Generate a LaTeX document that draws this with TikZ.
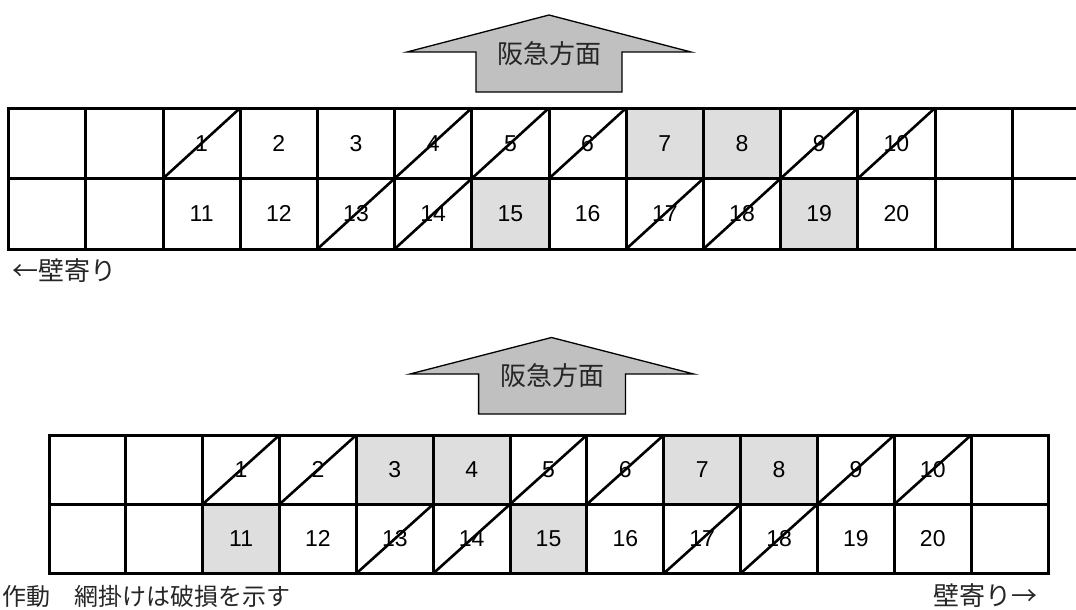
\documentclass[tikz,border=0pt]{standalone}
\usepackage{fontspec}
\setmainfont{Liberation Sans}
\newfontfamily\jp{Noto Sans CJK JP}
\usetikzlibrary{backgrounds}
\definecolor{arrowgray}{HTML}{C0C0C0}
\definecolor{dmg}{HTML}{DEDEDE}
\tikzset{
  cellbox/.style={draw=black,line width=3pt,minimum width=77.2pt,minimum height=70.5pt,
    inner sep=0pt,outer sep=0pt,font=\fontsize{23}{23}\selectfont},
  cellboxb/.style={cellbox,minimum width=76.85pt,minimum height=69.2pt},
  slash/.style={draw=black,line width=2.6pt},
  dmgfill/.style={fill=dmg},
  arrowshape/.style={draw=black,line width=1.3pt,fill=arrowgray,line join=miter},
  jplabel/.style={font=\jp\fontsize{26}{26}\selectfont,inner sep=0pt,text=black!85}
}
\begin{document}
\begin{tikzpicture}[x=1pt,y=-1pt]
\useasboundingbox (0,0) rectangle (1076,610);

% ---------- upper diagram ----------
\draw[arrowshape] (407,52) -- (549,15) -- (691,52) -- (622,52) -- (622,92) -- (476,92) -- (476,52) -- cycle;
\node[jplabel] (dirA) at (549,54) {阪急方面};

\foreach \c in {0,...,13} {
  \pgfmathtruncatemacro{\na}{\c-1}
  \pgfmathtruncatemacro{\nb}{\c+9}
  \node[cellbox] (A-0-\c) at ({8.6+77.2*(\c+0.5)},{108+70.5*0.5}) {\ifnum\c>1 \ifnum\c<12 \na\fi\fi};
  \node[cellbox] (A-1-\c) at ({8.6+77.2*(\c+0.5)},{108+70.5*1.5}) {\ifnum\c>1 \ifnum\c<12 \nb\fi\fi};
}
\begin{scope}[on background layer]
  \foreach \n in {A-0-8,A-0-9,A-1-6,A-1-10}
    \fill[dmgfill] (\n.south west) rectangle (\n.north east);
\end{scope}
\foreach \n in {A-0-2,A-0-5,A-0-6,A-0-7,A-0-10,A-0-11,A-1-4,A-1-5,A-1-8,A-1-9}
  \draw[slash] (\n.south west) -- (\n.north east);

\node[jplabel,anchor=west] (wallL) at (12,271) {←壁寄り};

% ---------- lower diagram ----------
\draw[arrowshape] (410,374) -- (551.5,337.5) -- (693.7,374) -- (625.5,374) -- (625.5,414) -- (478.6,414) -- (478.6,374) -- cycle;
\node[jplabel] (dirB) at (552,376) {阪急方面};

\foreach \c in {0,...,12} {
  \pgfmathtruncatemacro{\na}{\c-1}
  \pgfmathtruncatemacro{\nb}{\c+9}
  \node[cellboxb] (B-0-\c) at ({49+76.85*(\c+0.5)},{435+69.2*0.5}) {\ifnum\c>1 \ifnum\c<12 \na\fi\fi};
  \node[cellboxb] (B-1-\c) at ({49+76.85*(\c+0.5)},{435+69.2*1.5}) {\ifnum\c>1 \ifnum\c<12 \nb\fi\fi};
}
\begin{scope}[on background layer]
  \foreach \n in {B-0-4,B-0-5,B-0-8,B-0-9,B-1-2,B-1-6}
    \fill[dmgfill] (\n.south west) rectangle (\n.north east);
\end{scope}
\foreach \n in {B-0-2,B-0-3,B-0-6,B-0-7,B-0-10,B-0-11,B-1-4,B-1-5,B-1-8,B-1-9}
  \draw[slash] (\n.south west) -- (\n.north east);

\node[jplabel,anchor=east] (wallR) at (1038,596) {壁寄り→};
\node[jplabel,anchor=west,font=\jp\fontsize{24}{24}\selectfont] (note) at (2,596) {作動　網掛けは破損を示す};
\end{tikzpicture}
\end{document}
